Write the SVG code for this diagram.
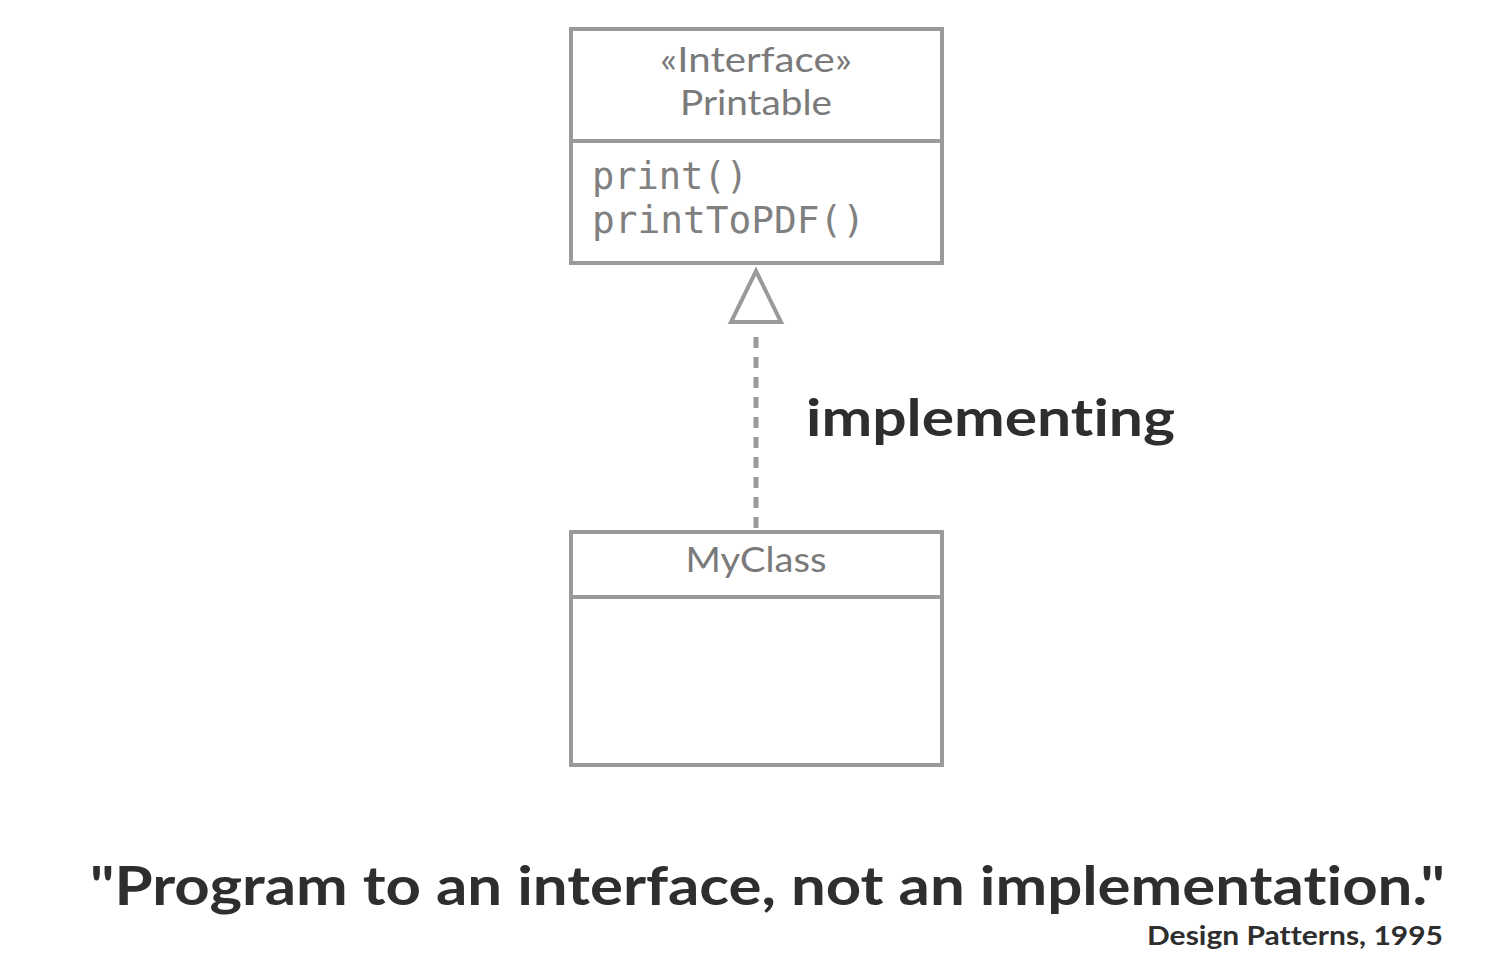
<svg xmlns="http://www.w3.org/2000/svg" width="1496" height="980" viewBox="0 0 1496 980">
<style>
.box{fill:#fff;stroke:#9a9a9a;stroke-width:4}
.div{stroke:#9a9a9a;stroke-width:4}
.lbl{font-family:Lato,"Noto Sans",sans-serif;fill:#7a7a7a;font-size:34px;text-anchor:middle}
.mono{font-family:"DejaVu Sans Mono",monospace;fill:#808080;font-size:37px}
.dark{font-family:Lato,"Noto Sans",sans-serif;fill:#2e2e2e;font-weight:bold;font-variant-ligatures:none;font-feature-settings:"liga" 0,"dlig" 0,"clig" 0}
</style>
<rect width="1496" height="980" fill="#fff"/>
<g id="printable">
<rect class="box" x="571" y="29" width="371" height="234"/>
<line class="div" x1="571" y1="141" x2="942" y2="141"/>
<text class="lbl" x="756" y="72" textLength="192" lengthAdjust="spacingAndGlyphs">«Interface»</text>
<text class="lbl" x="756" y="115" textLength="152" lengthAdjust="spacingAndGlyphs">Printable</text>
<text class="mono" x="592" y="189">print()</text>
<text class="mono" x="592" y="233" textLength="273" lengthAdjust="spacingAndGlyphs">printToPDF()</text>
</g>
<g id="myclass">
<rect class="box" x="571" y="532" width="371" height="233"/>
<line class="div" x1="571" y1="597" x2="942" y2="597"/>
<text class="lbl" x="756" y="572" textLength="141" lengthAdjust="spacingAndGlyphs">MyClass</text>
</g>
<g id="connectors">
<line x1="756" y1="337" x2="756" y2="530" stroke="#9a9a9a" stroke-width="5" stroke-dasharray="11 9"/>
<polygon points="756,271 781,322 731,322" fill="#fff" stroke="#9a9a9a" stroke-width="4"/>
<text class="dark" x="806" y="436" font-size="52" textLength="369" lengthAdjust="spacingAndGlyphs">implementing</text>
</g>
<g id="quote">
<text class="dark" x="90" y="905" font-size="54" textLength="1355" lengthAdjust="spacingAndGlyphs">"Program to an interface, not an implementation."</text>
<text class="dark" x="1443" y="945" font-size="26" text-anchor="end" textLength="296" lengthAdjust="spacingAndGlyphs">Design Patterns, 1995</text>
</g>
</svg>
